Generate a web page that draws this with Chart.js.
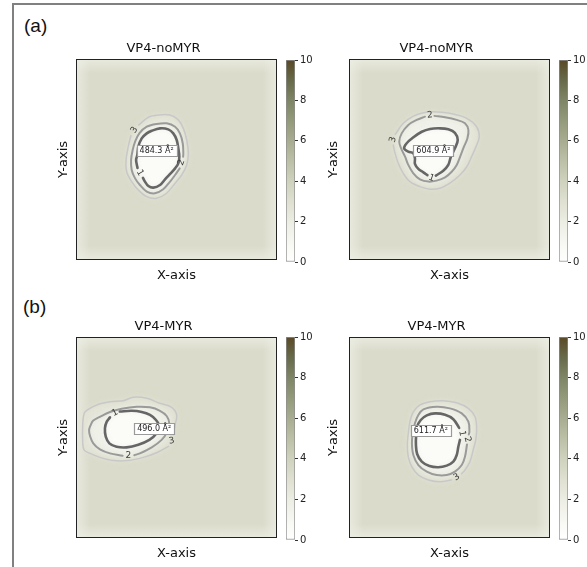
<!DOCTYPE html>
<html><head><meta charset="utf-8">
<script src="https://cdn.jsdelivr.net/npm/chart.js@4.4.1/dist/chart.umd.min.js"></script>
<style>
html,body{margin:0;padding:0;background:#fff;width:587px;height:567px;overflow:hidden;position:relative;}
#frame{position:absolute;left:12px;top:3px;width:700px;height:700px;border-left:2px solid #808080;border-top:2px solid #808080;}
.lbl{position:absolute;font-family:"Liberation Sans",Arial,sans-serif;font-size:19px;color:#111;line-height:1;}
canvas{position:absolute;}
</style></head><body>
<div id="frame"></div>
<div class="lbl" style="left:24px;top:16px">(a)</div>
<div class="lbl" style="left:23px;top:297px">(b)</div>
<canvas id="m0" width="227" height="250" style="left:50px;top:36px"></canvas>
<canvas id="m1" width="227" height="250" style="left:323px;top:36px"></canvas>
<canvas id="m2" width="227" height="250" style="left:50px;top:314px"></canvas>
<canvas id="m3" width="227" height="250" style="left:323px;top:314px"></canvas>
<canvas id="b0" width="39" height="218" style="left:286px;top:52px"></canvas>
<canvas id="b1" width="39" height="218" style="left:559px;top:52px"></canvas>
<canvas id="b2" width="39" height="219" style="left:286px;top:329px"></canvas>
<canvas id="b3" width="39" height="219" style="left:559px;top:329px"></canvas>
<script>
// ---------------- DATA ----------------
const panelTitles = ['VP4-noMYR', 'VP4-noMYR', 'VP4-MYR', 'VP4-MYR'];
const xAxisLabel = 'X-axis';
const yAxisLabel = 'Y-axis';
const contourLevels = ['1', '2', '3'];
const colorbarTicks = [0, 2, 4, 6, 8, 10];
const colorbarMax = 10;
const areaLabels = ['484.3 Å²', '604.9 Å²', '496.0 Å²', '611.7 Å²'];
const areaLabelPos = [[40.1, 54.7], [42.0, 54.7], [38.9, 54.4], [40.7, 53.7]];

// panel (a) left
const p0Level1 = [[30.6,45.8],[29.9,49.8],[30.5,52.2],[31.0,56.4],[32.7,60.5],[35.2,63.0],[37.7,64.3],[41.8,65.5],[45.9,65.0],[48.4,63.0],[50.1,59.7],[50.9,55.6],[51.4,51.4],[50.9,48.1],[49.3,45.6],[46.8,42.8],[44.3,40.1],[41.8,37.3],[38.5,36.0],[36.0,36.8],[34.3,39.0],[33.3,40.9]];
const p0Level2 = [[51.6,45.6],[49.3,42.3],[46.8,39.0],[43.4,35.2],[39.3,33.2],[35.2,34.0],[31.8,37.3],[29.4,40.6],[27.7,44.8],[27.4,49.8],[28.2,54.7],[29.4,58.9],[31.5,63.0],[35.2,66.3],[40.1,67.7],[45.1,68.0],[49.3,66.3],[51.7,63.0],[53.1,58.1],[53.4,53.1],[53.3,51.4]];
const p0Level3 = [[31.2,67.2],[36.0,71.0],[40.9,72.1],[46.8,72.1],[50.9,69.7],[53.4,65.5],[55.1,59.7],[55.9,53.1],[55.1,47.3],[52.6,42.3],[49.3,38.2],[45.1,33.2],[40.1,30.7],[35.2,31.5],[31.0,34.8],[27.7,39.0],[25.2,43.9],[24.9,49.8],[26.0,56.4],[27.3,61.8]];
const p0LabelPos = [[31.8,43.4],[52.4,48.5],[29.0,64.6]];

// panel (a) right
const p1Level1 = [[43.2,42.0],[46.9,44.4],[49.4,47.3],[50.7,51.4],[52.7,55.6],[54.1,59.7],[52.7,63.3],[49.4,65.0],[45.3,65.5],[40.3,65.2],[36.2,63.8],[32.0,61.0],[28.7,58.1],[27.4,55.6],[29.5,53.9],[32.0,53.1],[32.8,50.6],[32.8,47.8],[34.5,45.3],[37.0,43.6],[39.0,42.2]];
const p1Level2 = [[42.5,71.7],[47.8,71.0],[53.6,69.7],[57.7,68.0],[59.4,64.7],[58.9,60.5],[57.2,56.4],[55.6,52.2],[53.6,47.3],[51.1,43.9],[47.8,41.1],[43.6,39.5],[39.5,39.0],[35.3,40.1],[32.0,43.1],[29.5,47.3],[27.9,51.4],[25.9,55.6],[25.0,58.9],[26.2,63.0],[29.5,67.2],[33.7,69.7],[37.8,71.3]];
const p1Level3 = [[23.0,62.5],[27.0,68.0],[32.0,71.6],[37.0,73.3],[41.9,73.8],[50.2,73.0],[58.6,70.5],[63.5,66.3],[64.8,61.3],[63.2,56.4],[61.0,51.4],[58.6,46.4],[55.2,42.3],[50.2,38.2],[45.3,35.7],[40.3,35.2],[35.3,36.5],[30.3,39.0],[27.0,43.1],[24.5,48.1],[22.9,53.1],[22.0,57.2]];
const p1LabelPos = [[41.1,40.8],[40.2,72.0],[21.9,59.9]];

// panel (b) left
const p2Level1 = [[21.8,62.9],[27.7,63.3],[32.7,62.7],[36.8,61.2],[39.8,58.7],[41.4,55.7],[40.1,52.1],[36.5,48.8],[31.0,46.4],[25.2,45.1],[20.2,45.4],[16.6,47.1],[14.8,50.4],[14.4,54.6],[15.3,57.9],[16.9,60.0]];
const p2Level2 = [[23.2,40.9],[16.9,42.1],[11.9,44.1],[8.6,47.1],[7.0,50.7],[6.5,53.7],[7.3,56.2],[8.6,58.4],[11.9,60.3],[16.9,62.7],[22.7,64.3],[30.2,65.3],[36.8,65.0],[41.8,63.3],[45.1,60.7],[46.4,57.1],[45.4,52.9],[42.6,48.8],[37.7,45.1],[31.8,42.1],[29.0,41.2]];
const p2Level3 = [[46.0,45.6],[40.1,42.4],[33.5,40.1],[26.0,38.5],[18.6,38.5],[11.9,40.1],[7.0,42.1],[4.0,43.8],[3.3,48.8],[3.3,54.6],[3.6,59.6],[4.5,62.8],[10.3,66.2],[16.9,67.8],[23.5,68.3],[28.5,70.0],[35.2,69.5],[41.8,67.0],[47.6,65.0],[50.1,61.2],[49.3,56.2],[48.5,51.4]];
const p2LabelPos = [[19.4,62.2],[26.0,40.8],[47.6,48.3]];

// panel (b) right
const p3Level1 = [[54.8,54.8],[51.9,59.1],[47.8,61.3],[42.8,62.0],[38.7,61.0],[35.7,58.7],[33.9,55.4],[33.4,51.2],[33.3,46.3],[33.9,41.8],[36.2,38.0],[40.0,35.8],[44.4,35.2],[48.6,36.0],[51.9,38.0],[53.6,41.3],[54.4,45.4],[55.2,48.8]];
const p3Level2 = [[58.7,46.5],[57.7,40.4],[56.1,36.3],[52.7,33.0],[48.6,31.3],[43.6,31.3],[38.7,33.0],[34.5,36.3],[32.0,41.3],[31.3,47.1],[31.7,52.1],[32.8,57.1],[34.5,61.2],[37.0,64.0],[43.6,65.3],[50.2,64.5],[56.1,62.0],[59.4,57.9],[59.9,52.9],[59.6,51.5]];
const p3Level3 = [[51.0,28.9],[45.3,28.0],[39.5,28.9],[34.5,31.3],[31.2,35.5],[29.5,40.4],[29.0,46.3],[29.5,52.1],[30.3,57.9],[32.0,62.8],[35.3,66.2],[40.3,67.8],[46.9,68.3],[53.6,67.3],[59.4,64.5],[62.7,60.3],[63.5,55.4],[63.2,49.6],[61.8,43.8],[60.2,38.0],[57.7,33.8],[56.0,32.0]];
const p3LabelPos = [[56.2,52.0],[58.9,49.1],[53.6,30.2]];

// ---------------- STYLE ----------------
const FONT = '"DejaVu Sans", Verdana, sans-serif';
const lineColors = ['#666666', '#9a9a9a', '#c8c8c8'];
const lineWidths = [2.6, 2.0, 1.5];
const fillColors = ['#fbfbf8', '#eff0e8', '#e4e5d8'];
const heatBase = '#dadbca';
const labelRot = [[61, -69, -57], [20, -5, -75], [-27, 0, -10], [80, 75, -32]];
const yTitlePad = [6.2, 3.2, 6.2, 3.2];
const cmapStops = [
  [0, '#ffffff'], [1, '#f7f7f2'], [2, '#ecede3'], [3, '#dfe0d1'], [4, '#cfd2bd'],
  [5, '#bcc0a7'], [6, '#a8ad91'], [7, '#93997b'], [8, '#7e8566'], [9, '#676a4a'], [10, '#5a4926']
];

const panels = [
  [p0Level1, p0Level2, p0Level3, p0LabelPos],
  [p1Level1, p1Level2, p1Level3, p1LabelPos],
  [p2Level1, p2Level2, p2Level3, p2LabelPos],
  [p3Level1, p3Level2, p3Level3, p3LabelPos]
];

function heatPlugin(i) {
  return {
    id: 'heat' + i,
    beforeDatasetsDraw(chart) {
      const {ctx, chartArea: a, scales: {x, y}} = chart;
      ctx.save();
      ctx.beginPath(); ctx.rect(a.left, a.top, a.width, a.height); ctx.clip();
      ctx.fillStyle = heatBase;
      ctx.fillRect(a.left, a.top, a.width, a.height);
      const e = 14;
      const c0 = 'rgba(237,238,228,0.8)', c1 = 'rgba(237,238,228,0)';
      const edges = [
        [a.left, 0, a.left + e, 0, a.left, a.top, e, a.height],
        [a.right, 0, a.right - e, 0, a.right - e, a.top, e, a.height],
        [0, a.top, 0, a.top + e, a.left, a.top, a.width, e],
        [0, a.bottom, 0, a.bottom - e, a.left, a.bottom - e, a.width, e]
      ];
      edges.forEach(g => {
        const gr = ctx.createLinearGradient(g[0], g[1], g[2], g[3]);
        gr.addColorStop(0, c0); gr.addColorStop(1, c1);
        ctx.fillStyle = gr; ctx.fillRect(g[4], g[5], g[6], g[7]);
      });
      ctx.filter = 'blur(3px)';
      for (let k = 2; k >= 0; k--) {
        const pts = chart.data.datasets[k].data;
        ctx.beginPath();
        pts.forEach((p, j) => {
          const px = x.getPixelForValue(p.x), py = y.getPixelForValue(p.y);
          if (j === 0) ctx.moveTo(px, py); else ctx.lineTo(px, py);
        });
        ctx.closePath();
        ctx.fillStyle = fillColors[k];
        ctx.fill();
      }
      ctx.restore();
    },
    afterDatasetsDraw(chart) {
      const {ctx, scales: {x, y}} = chart;
      const lp = panels[i][3];
      ctx.save();
      ctx.fillStyle = '#3c3c3c';
      ctx.font = '9px ' + FONT;
      ctx.textAlign = 'center'; ctx.textBaseline = 'middle';
      lp.forEach((p, k) => {
        ctx.save();
        ctx.translate(x.getPixelForValue(p[0]), y.getPixelForValue(p[1]));
        ctx.rotate(labelRot[i][k] * Math.PI / 180);
        ctx.fillText(contourLevels[k], 0, 0);
        ctx.restore();
      });
      const ax = x.getPixelForValue(areaLabelPos[i][0]);
      const ay = y.getPixelForValue(areaLabelPos[i][1]);
      ctx.font = '8px ' + FONT;
      const w = ctx.measureText(areaLabels[i]).width + 6;
      const h = 11;
      ctx.fillStyle = '#ffffff';
      ctx.strokeStyle = '#9a9a9a';
      ctx.lineWidth = 1.2;
      ctx.beginPath();
      ctx.rect(Math.round(ax - w / 2) + 0.5, Math.round(ay - h / 2) + 0.5, Math.round(w), h);
      ctx.fill(); ctx.stroke();
      ctx.fillStyle = '#222';
      ctx.fillText(areaLabels[i], ax, ay + 0.5);
      ctx.restore();
    },
    afterDraw(chart) {
      const {ctx, chartArea: a} = chart;
      ctx.save();
      ctx.strokeStyle = '#222';
      ctx.lineWidth = 1;
      ctx.strokeRect(a.left + 0.5, a.top + 0.5, a.width - 1, a.height - 1);
      ctx.restore();
    }
  };
}

function makePanel(i) {
  const datasets = [0, 1, 2].map(k => ({
    data: panels[i][k].map(p => ({x: p[0], y: p[1]})),
    showLine: true,
    borderColor: lineColors[k],
    borderWidth: lineWidths[k],
    pointRadius: 0,
    tension: 0.35,
    fill: false,
    borderCapStyle: 'round',
    borderJoinStyle: 'round'
  }));
  new Chart(document.getElementById('m' + i), {
    type: 'scatter',
    data: {datasets},
    options: {
      responsive: false, animation: false, events: [],
      layout: {padding: 0},
      plugins: {
        legend: {display: false}, tooltip: {enabled: false},
        title: {display: true, text: panelTitles[i], color: '#111',
          font: {family: FONT, size: 13, weight: 'normal'}, padding: {top: 5.2, bottom: 2.2}}
      },
      scales: {
        x: {type: 'linear', min: 0, max: 100, grid: {display: false}, border: {display: false},
          ticks: {display: false},
          title: {display: true, text: xAxisLabel, color: '#111', font: {family: FONT, size: 13}, padding: {top: 0, bottom: 3}},
          afterFit: s => { s.height = 26; }},
        y: {type: 'linear', min: 0, max: 100, grid: {display: false}, border: {display: false},
          ticks: {display: false},
          title: {display: true, text: yAxisLabel, color: '#111', font: {family: FONT, size: 13}, padding: {top: yTitlePad[i], bottom: 0}},
          afterFit: s => { s.width = 26; }}
      }
    },
    plugins: [heatPlugin(i)]
  });
}

function cmapGradient(chart) {
  const a = chart.chartArea;
  if (!a) return '#ccc';
  const y = chart.scales.y;
  const g = chart.ctx.createLinearGradient(0, y.getPixelForValue(0), 0, y.getPixelForValue(colorbarMax));
  cmapStops.forEach(s => g.addColorStop(s[0] / colorbarMax, s[1]));
  return g;
}

function makeColorbar(i) {
  new Chart(document.getElementById('b' + i), {
    type: 'bar',
    data: {labels: [''], datasets: [{
      data: [colorbarMax],
      backgroundColor: c => cmapGradient(c.chart),
      borderColor: '#8e8e8e', borderWidth: 1, borderSkipped: false,
      barPercentage: 1, categoryPercentage: 1
    }]},
    options: {
      responsive: false, animation: false, events: [],
      layout: {padding: {top: 8, bottom: 8, left: 0, right: 0}},
      plugins: {legend: {display: false}, tooltip: {enabled: false}},
      scales: {
        x: {display: false},
        y: {position: 'right', min: 0, max: colorbarMax,
          afterBuildTicks: s => { s.ticks = colorbarTicks.map(v => ({value: v})); },
          ticks: {font: {family: FONT, size: 10}, color: '#222', padding: 2},
          grid: {drawOnChartArea: false, drawTicks: true, tickLength: 3, color: '#333', lineWidth: 1},
          border: {display: false},
          afterFit: s => { s.width = 30; }}
      }
    }
  });
}

for (let i = 0; i < 4; i++) { makePanel(i); makeColorbar(i); }
</script>
</body></html>
